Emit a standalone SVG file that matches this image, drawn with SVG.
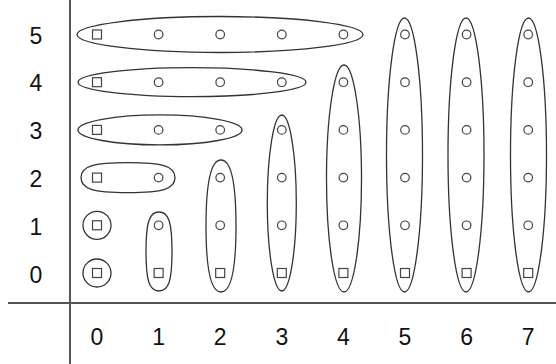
<svg xmlns="http://www.w3.org/2000/svg" width="556" height="364" viewBox="0 0 556 364">
<style>
.ax{stroke:#555;stroke-width:2;fill:none}
.sh{stroke:#333;stroke-width:1.3;fill:none}
.pt{stroke:#444;stroke-width:1.2;fill:none}
.lb{font-family:"Liberation Sans",Arial,sans-serif;font-size:23px;fill:#111;text-anchor:middle}
</style>
<defs>
<circle id="o" r="4.3" class="pt"/>
<rect id="s" x="-4.5" y="-4.5" width="9" height="9" class="pt"/>
</defs>
<g id="axes">
<line class="ax" x1="70" y1="0" x2="70" y2="364"/>
<line class="ax" x1="8" y1="303" x2="556" y2="303"/>
</g>
<g id="ylabels">
<text class="lb" x="36" y="43.5">5</text>
<text class="lb" x="36" y="91">4</text>
<text class="lb" x="36" y="139">3</text>
<text class="lb" x="36" y="186.5">2</text>
<text class="lb" x="36" y="234.5">1</text>
<text class="lb" x="36" y="282.5">0</text>
</g>
<g id="xlabels">
<text class="lb" x="97" y="345">0</text>
<text class="lb" x="158.6" y="345">1</text>
<text class="lb" x="220.2" y="345">2</text>
<text class="lb" x="281.8" y="345">3</text>
<text class="lb" x="343.4" y="345">4</text>
<text class="lb" x="405" y="345">5</text>
<text class="lb" x="466.6" y="345">6</text>
<text class="lb" x="528.2" y="345">7</text>
</g>
<g id="row5">
<ellipse class="sh" cx="220" cy="34.5" rx="143" ry="18"/>
<use href="#s" x="97" y="34.5"/>
<use href="#o" x="158.6" y="34.5"/><use href="#o" x="220.2" y="34.5"/><use href="#o" x="281.8" y="34.5"/><use href="#o" x="343.4" y="34.5"/>
</g>
<g id="row4">
<ellipse class="sh" cx="192" cy="82.2" rx="114" ry="14.5"/>
<use href="#s" x="97" y="82.2"/>
<use href="#o" x="158.6" y="82.2"/><use href="#o" x="220.2" y="82.2"/><use href="#o" x="281.8" y="82.2"/>
</g>
<g id="row3">
<ellipse class="sh" cx="160" cy="129.9" rx="82" ry="15"/>
<use href="#s" x="97" y="129.9"/>
<use href="#o" x="158.6" y="129.9"/><use href="#o" x="220.2" y="129.9"/>
</g>
<g id="row2">
<path class="sh" d="M81,177.6 C81,166.4 92.8,162.6 128,162.6 C163.2,162.6 175,166.4 175,177.6 C175,188.8 163.2,192.6 128,192.6 C92.8,192.6 81,188.8 81,177.6 Z"/>
<use href="#s" x="97" y="177.6"/>
<use href="#o" x="158.6" y="177.6"/>
</g>
<g id="row1">
<circle class="sh" cx="97" cy="225.3" r="14"/>
<use href="#s" x="97" y="225.3"/>
</g>
<g id="row0">
<circle class="sh" cx="97" cy="273" r="14"/>
<use href="#s" x="97" y="273"/>
</g>
<g id="col1">
<path class="sh" d="M146,251.5 C146,222 149.3,212 159,212 C168.7,212 172,222 172,251.5 C172,281 168.7,291 159,291 C149.3,291 146,281 146,251.5 Z"/>
<use href="#o" x="158.6" y="225.3"/>
<use href="#s" x="158.6" y="273"/>
</g>
<g id="col2">
<path class="sh" d="M206,226 C206,183 211,160 221,160 C231,160 236,183 236,226 C236,269 231,292 221,292 C211,292 206,269 206,226 Z"/>
<use href="#o" x="220.2" y="177.6"/><use href="#o" x="220.2" y="225.3"/>
<use href="#s" x="220.2" y="273"/>
</g>
<g id="col3">
<ellipse class="sh" cx="281.8" cy="203" rx="14.5" ry="88"/>
<use href="#o" x="281.8" y="129.9"/><use href="#o" x="281.8" y="177.6"/><use href="#o" x="281.8" y="225.3"/>
<use href="#s" x="281.8" y="273"/>
</g>
<g id="col4">
<ellipse class="sh" cx="344" cy="178.5" rx="17.5" ry="113.5"/>
<use href="#o" x="343.4" y="82.2"/><use href="#o" x="343.4" y="129.9"/><use href="#o" x="343.4" y="177.6"/><use href="#o" x="343.4" y="225.3"/>
<use href="#s" x="343.4" y="273"/>
</g>
<g id="col5">
<ellipse class="sh" cx="404.5" cy="155" rx="18" ry="137"/>
<use href="#o" x="405" y="34.5"/><use href="#o" x="405" y="82.2"/><use href="#o" x="405" y="129.9"/><use href="#o" x="405" y="177.6"/><use href="#o" x="405" y="225.3"/>
<use href="#s" x="405" y="273"/>
</g>
<g id="col6">
<ellipse class="sh" cx="466" cy="155" rx="18" ry="137"/>
<use href="#o" x="466.6" y="34.5"/><use href="#o" x="466.6" y="82.2"/><use href="#o" x="466.6" y="129.9"/><use href="#o" x="466.6" y="177.6"/><use href="#o" x="466.6" y="225.3"/>
<use href="#s" x="466.6" y="273"/>
</g>
<g id="col7">
<ellipse class="sh" cx="528.5" cy="155" rx="18" ry="137"/>
<use href="#o" x="528.2" y="34.5"/><use href="#o" x="528.2" y="82.2"/><use href="#o" x="528.2" y="129.9"/><use href="#o" x="528.2" y="177.6"/><use href="#o" x="528.2" y="225.3"/>
<use href="#s" x="528.2" y="273"/>
</g>
</svg>
